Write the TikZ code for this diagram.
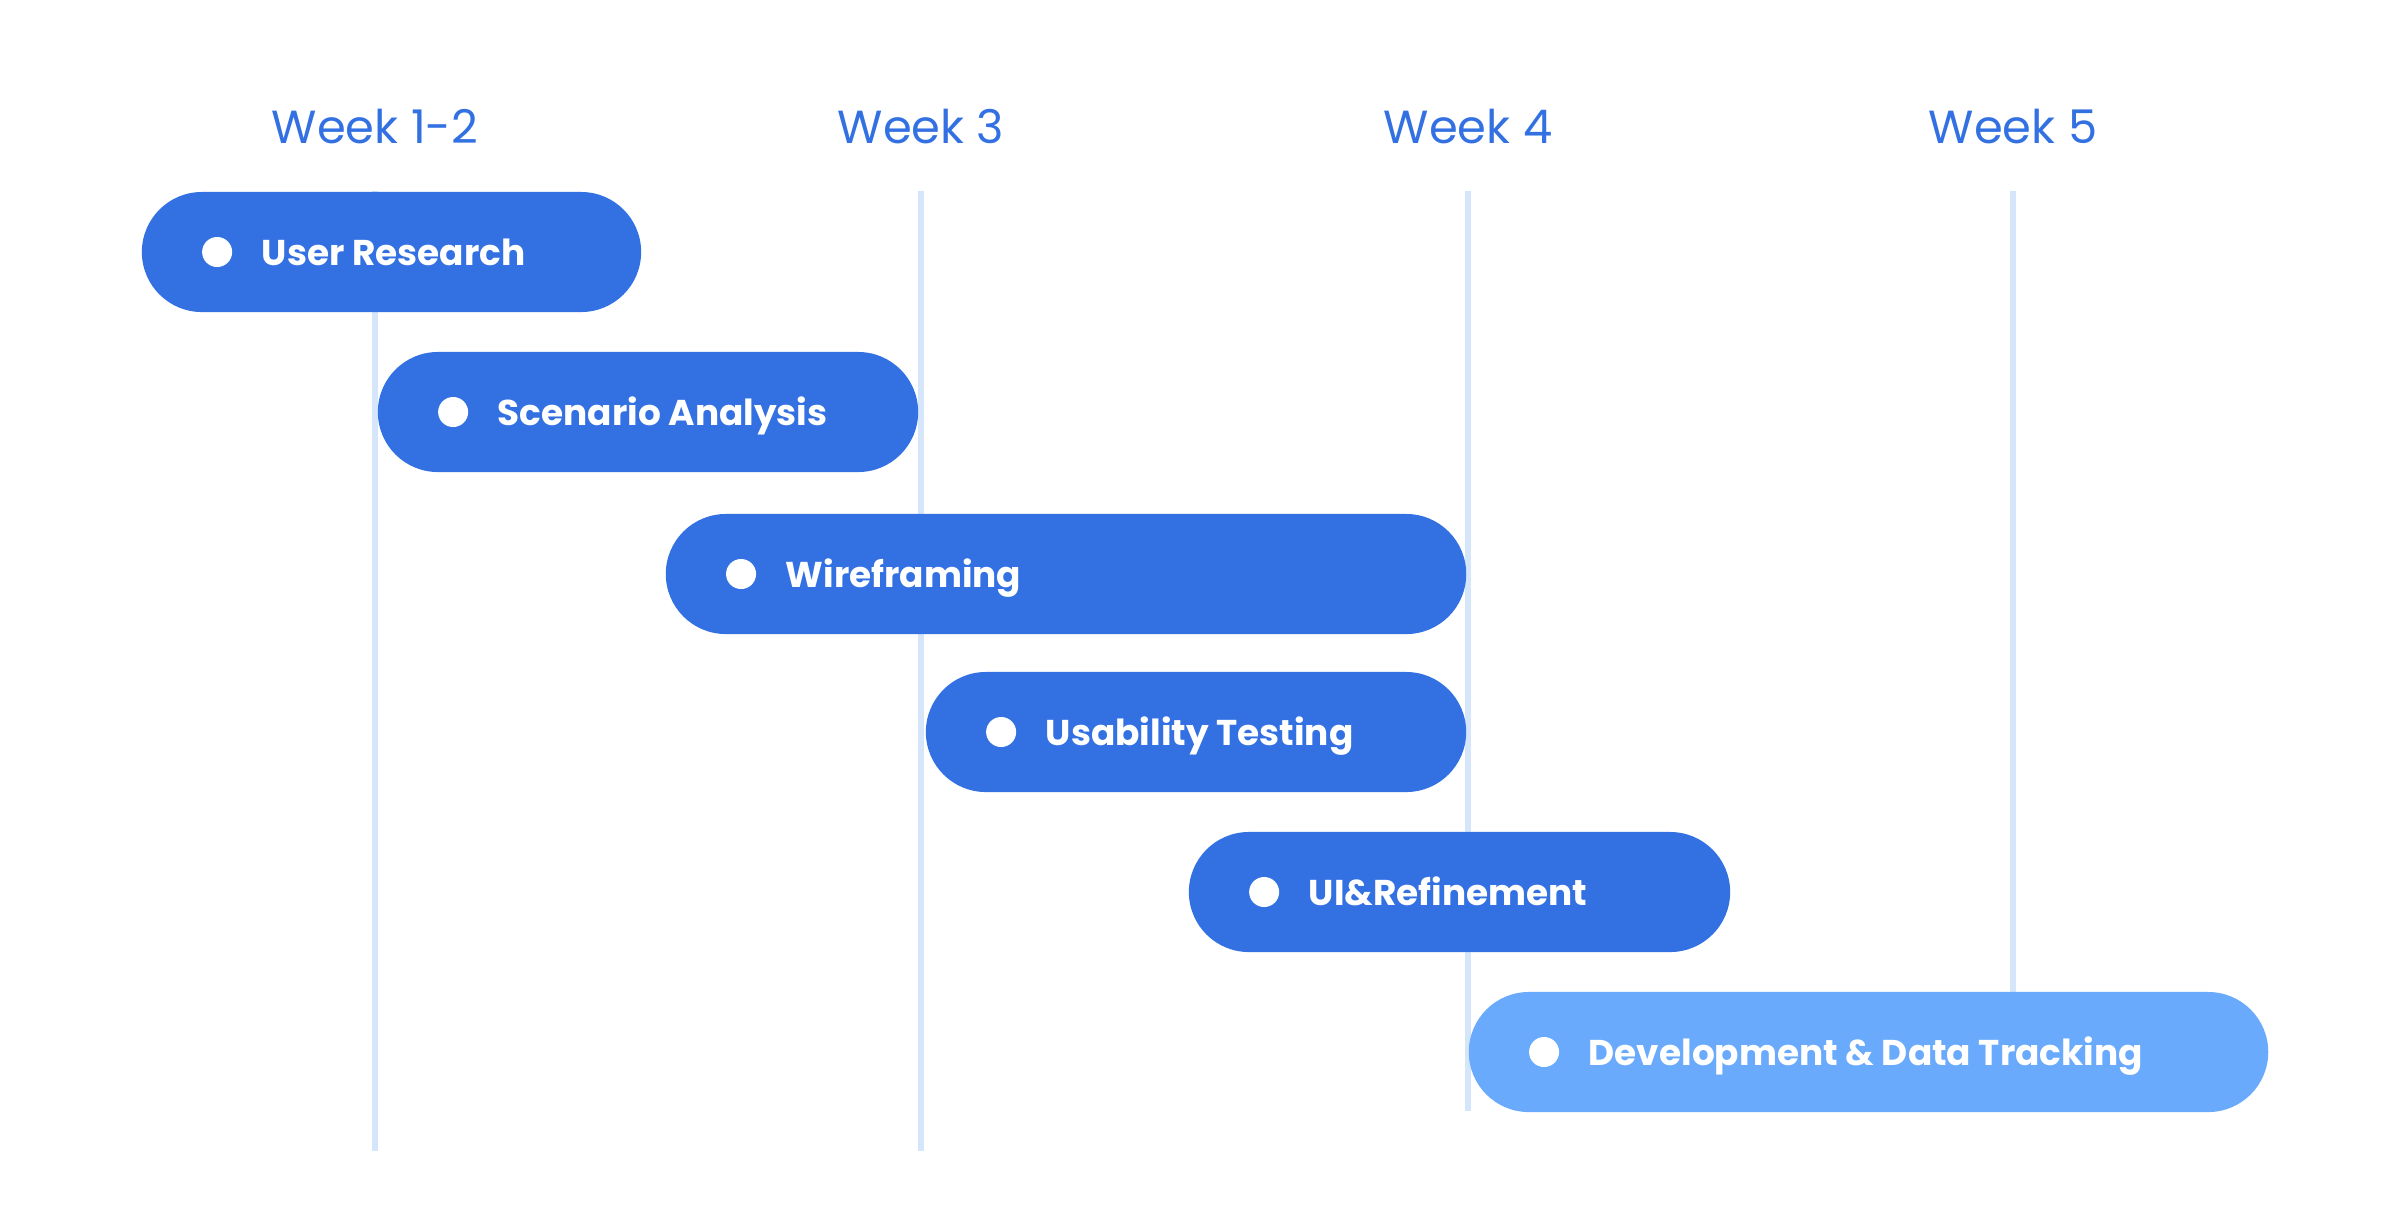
\documentclass[tikz,border=0pt]{standalone}
\usepackage{fontspec}
\setmainfont{Poppins}
\usepackage{tikz}
\usetikzlibrary{calc,positioning,shapes.misc}
\usepackage{xcolor}
\definecolor{barblue}{RGB}{51,113,227}
\definecolor{barlight}{RGB}{105,170,253}
\definecolor{gridblue}{RGB}{214,230,250}

\begin{document}
\begin{tikzpicture}[x=0.01cm, y=-0.01cm,
    week/.style={font=\fontsize{13.2}{15}\selectfont, text=barblue},
    gridline/.style={gridblue, line width=1.6pt},
    taskbar/.style={rounded rectangle, fill=barblue, minimum height=1.2cm, inner sep=0pt},
    tasktext/.style={font=\fontsize{10.2}{12}\selectfont\bfseries, text=white, anchor=base west, inner sep=0pt},
    taskdot/.style={fill=white}]
  \useasboundingbox (0,0) rectangle (2400,1220);
  % week headers
  \node[week] (w1) at (375,127) {Week 1-2};
  \node[week] (w3) at (921,127) {Week 3};
  \node[week] (w4) at (1468,127) {Week 4};
  \node[week] (w5) at (2013,127) {Week 5};
  % grid lines below the headers
  \coordinate (e1) at (375,1151);
  \coordinate (e3) at (921,1151);
  \coordinate (e4) at (1468,1111);
  \coordinate (e5) at (2013,1111);
  \draw[gridline] (w1.south |- 0,191) -- (e1);
  \draw[gridline] (w3.south |- 0,191) -- (e3);
  \draw[gridline] (w4.south |- 0,191) -- (e4);
  \draw[gridline] (w5.south |- 0,191) -- (e5);
  % task bars
  \node[taskbar, minimum width=4.99cm] (ur) at (391.5,252) {};
  \node[taskbar, minimum width=5.40cm] (sa) at (648,412) {};
  \node[taskbar, minimum width=8.00cm] (wf) at (1066,574) {};
  \node[taskbar, minimum width=5.40cm] (ut) at (1196,732) {};
  \node[taskbar, minimum width=5.41cm] (ui) at (1459.5,892) {};
  \node[taskbar, minimum width=7.99cm, fill=barlight] (dt) at (1868.5,1052) {};
  % dots and labels
  \foreach \t/\txt in {ur/User Research, sa/Scenario Analysis, wf/Wireframing,
      ut/Usability Testing, ui/UI\&Refinement, dt/Development \& Data Tracking}{
    \fill[taskdot] ($(\t.west)+(76,0)$) circle (0.15cm);
    \node[tasktext] (\t-lbl) at ($(\t.west)+(120,13)$) {\txt};
  }
\end{tikzpicture}
\end{document}
